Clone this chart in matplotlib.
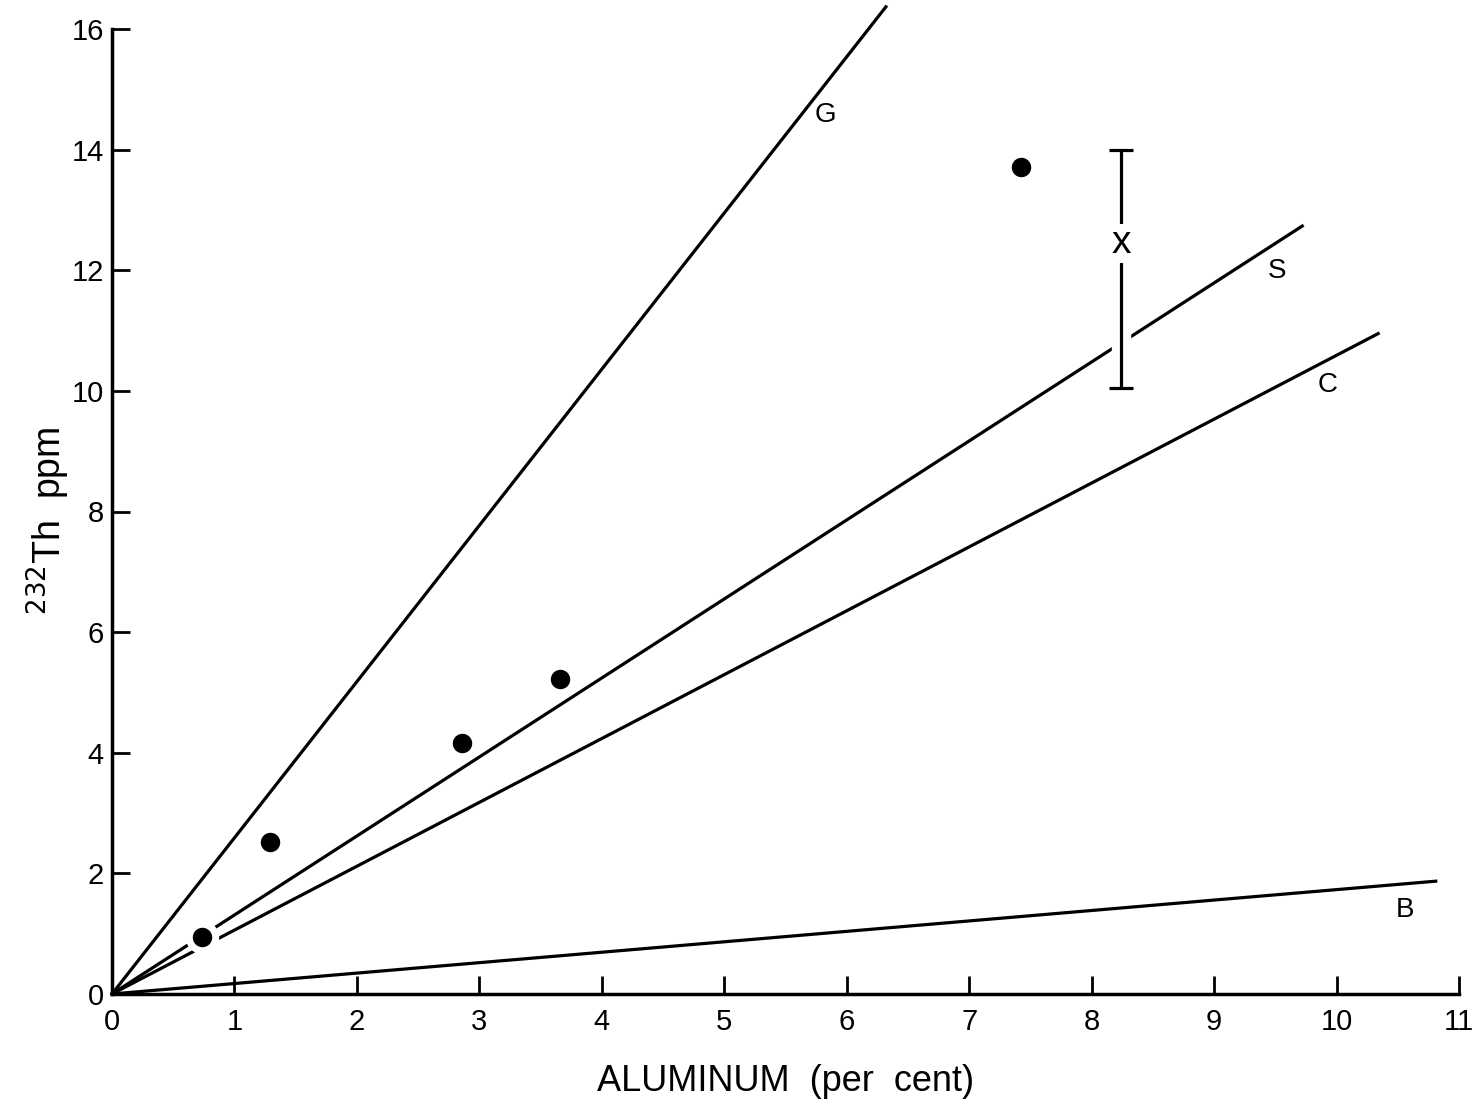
import numpy as np
import matplotlib.pyplot as plt
import matplotlib.patheffects as pe

plt.rcParams['font.family'] = ['Liberation Sans', 'DejaVu Sans']

# reference lines through the origin: slope and end point on x
names = ['G', 'S', 'C', 'B']
slopes = [2.59, 1.31, 1.059, 0.173]
x_end = [6.32, 9.72, 10.34, 10.81]
lab_x = [5.83, 9.51, 9.93, 10.56]
lab_y = [14.58, 11.99, 10.10, 1.39]

# measured samples
al = [0.735, 1.29, 2.86, 3.66, 7.42]
th = [0.945, 2.52, 4.16, 5.22, 13.71]

# mean value with range
err_x = 8.24
err_y = 12.45
err_lo = 10.05
err_hi = 14.0

fig = plt.figure(figsize=(14.8, 11), dpi=100)
ax = fig.add_axes([0.0757, 0.0964, 0.9101, 0.8772])

for i in range(len(names)):
    x = np.array([0.0, x_end[i]])
    ax.plot(x, slopes[i]*x, color='black', lw=2.3, clip_on=False, zorder=2)
    ax.text(lab_x[i], lab_y[i], names[i], fontsize=20, ha='center', va='center')

ax.plot(al, th, 'o', color='black', ms=19, mec='white', mew=5, zorder=4)

ax.vlines(err_x, err_lo, err_hi, color='black', lw=2.3, zorder=3,
          path_effects=[pe.Stroke(linewidth=14, foreground='white'), pe.Normal()])
ax.hlines([err_lo, err_hi], err_x-0.1, err_x+0.1, color='black', lw=2.3, zorder=3)
ax.text(err_x, err_y, 'x', fontsize=28, ha='center', va='center', zorder=5,
        bbox=dict(facecolor='white', edgecolor='none', pad=1))

ax.set_xlim(0, 11)
ax.set_ylim(0, 16)
ax.set_xticks(range(0, 12))
ax.set_yticks(range(0, 17, 2))
ax.tick_params(direction='in', length=13, width=2, labelsize=21)
ax.tick_params(axis='x', pad=10)
ax.tick_params(axis='y', pad=6)
for s in ['top', 'right']:
    ax.spines[s].set_visible(False)
for s in ['left', 'bottom']:
    ax.spines[s].set_linewidth(2.5)

ax.set_xlabel('ALUMINUM  (per  cent)', fontsize=26, labelpad=20)
ax.set_ylabel('$^{232}$Th  ppm', fontsize=27)
ax.yaxis.set_label_coords(-0.03, 0.49)

fig.savefig('out.png', dpi=100)
